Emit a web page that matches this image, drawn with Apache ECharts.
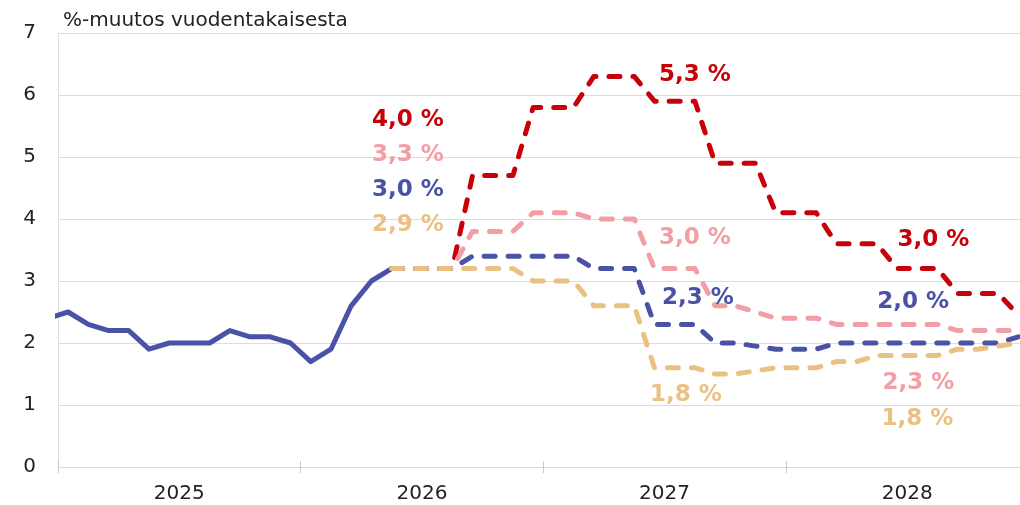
<!DOCTYPE html>
<html>
<head>
<meta charset="utf-8">
<script src="https://cdn.jsdelivr.net/npm/echarts@6/dist/echarts.min.js"></script>
<style>
  html, body { margin: 0; padding: 0; background: #fff; overflow: hidden; }
  /* kuvaaja on hieman ikkunaa leveämpi: vuoden 2028 loppu jää reunan yli */
  #inflationChart { width: 1029px; height: 505px; }
</style>
</head>
<body>
<div id="inflationChart"></div>
<script>
  // vuodet x-akselilla
  const years = ['2025', '2026', '2027', '2028']

  // toteutunut, kuukausittain 12/2024 - 5/2026
  const actualStart = '2024-12'
  const actual = [2.4, 2.5, 2.3, 2.2, 2.2, 1.9, 2.0, 2.0, 2.0, 2.2, 2.1, 2.1, 2.0, 1.7, 1.9, 2.6, 3.0, 3.2]

  // skenaariot, kuukausittain 5/2026 - 12/2028
  const scenarioStart = '2026-05'
  const redPath = [3.2, 3.2, 3.2, 3.2, 4.7, 4.7, 4.7, 5.8, 5.8, 5.8, 6.3, 6.3, 6.3, 5.9, 5.9, 5.9,
    4.9, 4.9, 4.9, 4.1, 4.1, 4.1, 3.6, 3.6, 3.6, 3.2, 3.2, 3.2, 2.8, 2.8, 2.8, 2.45]
  const pinkPath = [3.2, 3.2, 3.2, 3.2, 3.8, 3.8, 3.8, 4.1, 4.1, 4.1, 4.0, 4.0, 4.0, 3.2, 3.2, 3.2,
    2.6, 2.6, 2.5, 2.4, 2.4, 2.4, 2.3, 2.3, 2.3, 2.3, 2.3, 2.3, 2.2, 2.2, 2.2, 2.2]
  const bluePath = [3.2, 3.2, 3.2, 3.2, 3.4, 3.4, 3.4, 3.4, 3.4, 3.4, 3.2, 3.2, 3.2, 2.3, 2.3, 2.3,
    2.0, 2.0, 1.95, 1.9, 1.9, 1.9, 2.0, 2.0, 2.0, 2.0, 2.0, 2.0, 2.0, 2.0, 2.0, 2.1]
  const tanPath = [3.2, 3.2, 3.2, 3.2, 3.2, 3.2, 3.2, 3.0, 3.0, 3.0, 2.6, 2.6, 2.6, 1.6, 1.6, 1.6,
    1.5, 1.5, 1.55, 1.6, 1.6, 1.6, 1.7, 1.7, 1.8, 1.8, 1.8, 1.8, 1.9, 1.9, 1.95, 2.0]

  // vuosikeskiarvot: teksti, kohta kuukausina vuoden 2025 alusta, arvo
  const redNotes = [['4,0 %', 17.3, 5.6], ['5,3 %', 31.5, 6.32], ['3,0 %', 43.3, 3.66]]
  const pinkNotes = [['3,3 %', 17.3, 5.03], ['3,0 %', 31.5, 3.69], ['2,3 %', 42.55, 1.35]]
  const blueNotes = [['3,0 %', 17.3, 4.47], ['2,3 %', 31.65, 2.72], ['2,0 %', 42.3, 2.66]]
  const tanNotes = [['2,9 %', 17.3, 3.9], ['1,8 %', 31.05, 1.16], ['1,8 %', 42.5, 0.78]]

  const colors = {red: '#c8000a', pink: '#f29ea5', blue: '#4a52a6', tan: '#e9c283'}
  const font = 'DejaVu Sans'

  // kuukausi -> x-arvo (tammikuu 2025 alkaa nollasta, kuukauden keskikohta)
  function monthIndex (ym) {
    const parts = ym.split('-')
    return (parseInt(parts[0]) - 2025) * 12 + parseInt(parts[1]) - 1
  }
  function toPoints (values, start) {
    const m0 = monthIndex(start)
    return values.map((v, i) => [m0 + i + 0.5, v])
  }
  function notes (list, color) {
    return {
      symbolSize: 0,
      silent: true,
      label: {show: true, position: 'inside', color: color, fontFamily: font, fontWeight: 'bold', fontSize: 23},
      data: list.map(n => ({coord: [n[1], n[2]], value: n[0], label: {formatter: n[0]}}))
    }
  }
  function scenario (name, values, color, list) {
    return {
      name: name,
      type: 'line',
      xAxisIndex: 0,
      data: toPoints(values, scenarioStart),
      symbol: 'none',
      lineStyle: {color: color, width: 5, type: [11, 13], cap: 'round', join: 'round'},
      markPoint: notes(list, color),
      z: 3
    }
  }

  const option = {
    animation: false,
    title: {
      text: '%-muutos vuodentakaisesta',
      left: 58,
      top: 6,
      textStyle: {color: '#222', fontFamily: font, fontSize: 20, fontWeight: 'normal'}
    },
    grid: {left: 58, right: 0.5, top: 33, bottom: 38},
    xAxis: [
      {
        type: 'value',
        min: 0,
        max: 48,
        interval: 12,
        position: 'bottom',
        offset: 0,
        axisLine: {show: false},
        axisTick: {show: true, inside: true, length: 6, lineStyle: {color: '#c8c8c8'}},
        axisLabel: {show: false},
        splitLine: {show: false}
      },
      {
        type: 'category',
        data: years,
        position: 'bottom',
        offset: 0,
        boundaryGap: true,
        axisLine: {show: true, lineStyle: {color: '#d9d9d9', width: 1}},
        axisTick: {show: true, length: 6, lineStyle: {color: '#c8c8c8'}},
        axisLabel: {color: '#222', fontFamily: font, fontSize: 20, margin: 17}
      }
    ],
    yAxis: {
      type: 'value',
      min: 0,
      max: 7,
      interval: 1,
      axisLine: {show: true, lineStyle: {color: '#e0e0e0'}},
      axisTick: {show: false},
      axisLabel: {color: '#222', fontFamily: font, fontSize: 20, margin: 22},
      splitLine: {lineStyle: {color: '#dcdcdc', width: 1}}
    },
    series: [
      {
        name: 'Toteutunut',
        type: 'line',
        xAxisIndex: 0,
        data: toPoints(actual, actualStart),
        symbol: 'none',
        lineStyle: {color: colors.blue, width: 5, join: 'round'},
        z: 2
      },
      scenario('Punainen', redPath, colors.red, redNotes),
      scenario('Vaaleanpunainen', pinkPath, colors.pink, pinkNotes),
      scenario('Sininen', bluePath, colors.blue, blueNotes),
      scenario('Keltainen', tanPath, colors.tan, tanNotes)
    ]
  }

  const chart = echarts.init(document.getElementById('inflationChart'), null, {renderer: 'canvas'})
  chart.setOption(option)
</script>
</body>
</html>
